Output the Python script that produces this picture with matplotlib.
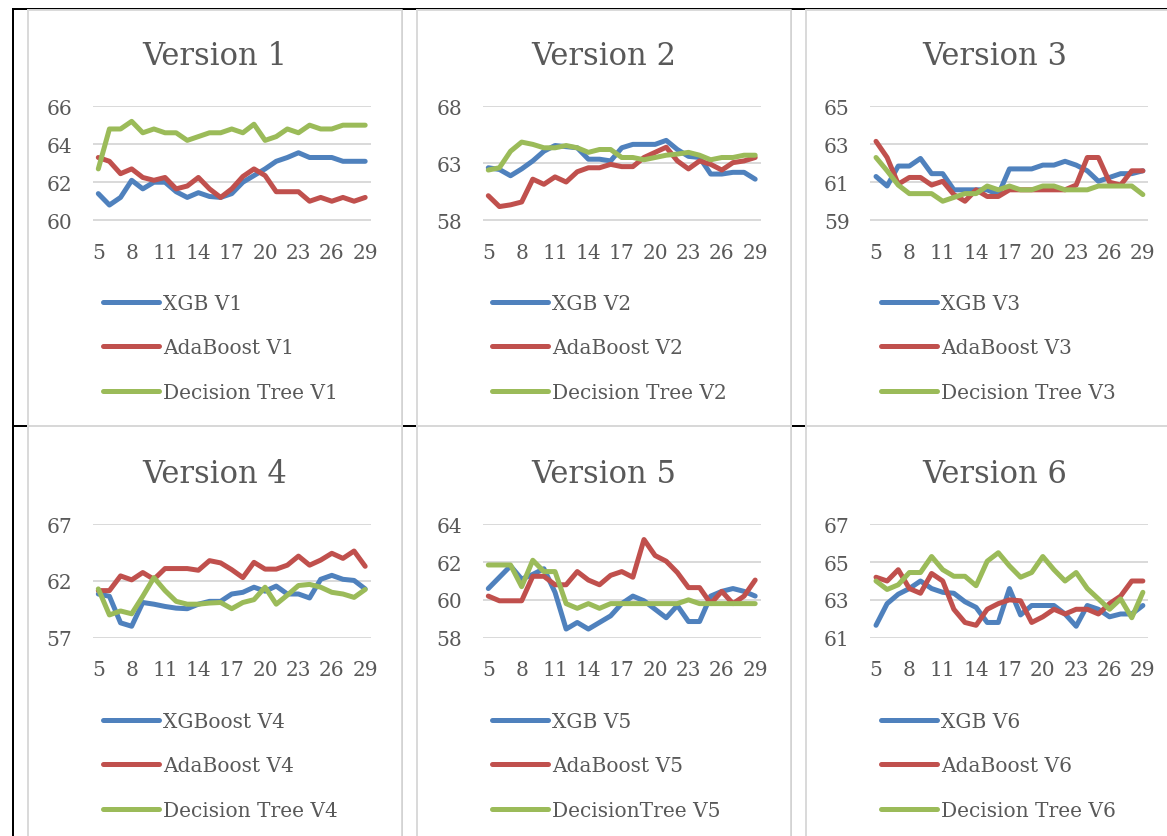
import matplotlib
matplotlib.use("Agg")
import matplotlib.pyplot as plt
from matplotlib.lines import Line2D

plt.rcParams["font.family"] = "DejaVu Serif"

# x axis: number of features (5..29)
x_vals = list(range(5, 30))
x_ticks = list(range(5, 30, 3))

# ---- Version 1
xgb_v1 = [61.4, 60.8, 61.2, 62.1, 61.65, 62.0, 62.0, 61.5, 61.2, 61.45, 61.25, 61.2, 61.4,
          62.0, 62.35, 62.7, 63.1, 63.3, 63.55, 63.3, 63.3, 63.3, 63.1, 63.1, 63.1]
ada_v1 = [63.3, 63.1, 62.45, 62.7, 62.25, 62.1, 62.25, 61.65, 61.8, 62.25, 61.65, 61.2, 61.65,
          62.3, 62.7, 62.35, 61.5, 61.5, 61.5, 61.0, 61.2, 61.0, 61.2, 61.0, 61.2]
dt_v1 = [62.7, 64.8, 64.8, 65.2, 64.6, 64.8, 64.6, 64.6, 64.2, 64.4, 64.6, 64.6, 64.8,
         64.6, 65.05, 64.2, 64.4, 64.8, 64.6, 65.0, 64.8, 64.8, 65.0, 65.0, 65.0]

# ---- Version 2
xgb_v2 = [62.6, 62.45, 61.9, 62.5, 63.2, 64.05, 64.55, 64.45, 64.35, 63.35, 63.35, 63.2, 64.35,
          64.65, 64.65, 64.65, 65.0, 64.2, 63.6, 63.5, 62.05, 62.05, 62.2, 62.2, 61.6]
ada_v2 = [60.15, 59.2, 59.35, 59.6, 61.6, 61.15, 61.8, 61.35, 62.25, 62.6, 62.6, 62.9, 62.7,
          62.7, 63.5, 63.95, 64.4, 63.2, 62.5, 63.2, 62.9, 62.4, 63.05, 63.2, 63.5]
dt_v2 = [62.4, 62.6, 64.05, 64.85, 64.65, 64.35, 64.35, 64.55, 64.35, 63.95, 64.2, 64.2, 63.5,
         63.5, 63.3, 63.5, 63.7, 63.8, 63.95, 63.7, 63.3, 63.5, 63.5, 63.7, 63.7]

# ---- Version 3
xgb_v3 = [61.3, 60.8, 61.85, 61.85, 62.25, 61.45, 61.45, 60.6, 60.6, 60.6, 60.6, 60.35, 61.7,
          61.7, 61.7, 61.9, 61.9, 62.1, 61.9, 61.6, 61.05, 61.25, 61.45, 61.45, 61.6]
ada_v3 = [63.15, 62.3, 60.9, 61.25, 61.25, 60.85, 61.05, 60.35, 60.0, 60.6, 60.25, 60.25, 60.6,
          60.6, 60.6, 60.6, 60.6, 60.6, 60.85, 62.3, 62.3, 61.0, 60.85, 61.6, 61.6]
dt_v3 = [62.3, 61.6, 60.85, 60.4, 60.4, 60.4, 60.0, 60.2, 60.4, 60.4, 60.8, 60.6, 60.8,
         60.6, 60.6, 60.8, 60.8, 60.6, 60.6, 60.6, 60.8, 60.8, 60.8, 60.8, 60.35]

# ---- Version 4
xgb_v4 = [60.85, 60.65, 58.3, 58.0, 60.1, 59.95, 59.75, 59.6, 59.55, 59.95, 60.2, 60.2, 60.85,
          61.0, 61.45, 61.1, 61.55, 60.85, 60.85, 60.5, 62.15, 62.5, 62.15, 62.05, 61.3]
ada_v4 = [61.15, 61.15, 62.45, 62.1, 62.75, 62.15, 63.1, 63.1, 63.1, 62.95, 63.8, 63.6, 63.0,
          62.3, 63.65, 63.05, 63.05, 63.4, 64.2, 63.4, 63.85, 64.45, 64.0, 64.65, 63.3]
dt_v4 = [61.3, 59.0, 59.35, 59.1, 60.65, 62.3, 61.15, 60.2, 59.95, 59.95, 60.05, 60.1, 59.55,
         60.1, 60.35, 61.45, 59.95, 60.75, 61.6, 61.7, 61.45, 61.0, 60.85, 60.55, 61.25]

# ---- Version 5
xgb_v5 = [60.6, 61.2, 61.8, 61.1, 61.35, 61.65, 60.4, 58.45, 58.8, 58.45, 58.8, 59.15, 59.8,
          60.2, 59.95, 59.5, 59.05, 59.7, 58.85, 58.85, 60.2, 60.45, 60.6, 60.45, 60.2]
ada_v5 = [60.2, 59.95, 59.95, 59.95, 61.25, 61.25, 60.8, 60.8, 61.5, 61.05, 60.8, 61.3, 61.5,
          61.2, 63.2, 62.35, 62.05, 61.45, 60.65, 60.65, 59.8, 60.45, 59.8, 60.2, 61.05]
dt_v5 = [61.85, 61.85, 61.85, 60.7, 62.1, 61.5, 61.5, 59.8, 59.55, 59.8, 59.55, 59.8, 59.8,
         59.8, 59.8, 59.8, 59.8, 59.8, 60.0, 59.8, 59.8, 59.8, 59.8, 59.8, 59.8]

# ---- Version 6
xgb_v6 = [61.65, 62.8, 63.3, 63.6, 64.0, 63.6, 63.4, 63.35, 62.9, 62.6, 61.8, 61.8, 63.6,
          62.2, 62.7, 62.7, 62.7, 62.25, 61.6, 62.7, 62.5, 62.1, 62.25, 62.25, 62.7]
ada_v6 = [64.2, 64.0, 64.6, 63.6, 63.35, 64.4, 64.0, 62.5, 61.8, 61.65, 62.5, 62.8, 63.0,
          62.95, 61.8, 62.1, 62.5, 62.25, 62.5, 62.5, 62.25, 62.8, 63.2, 64.0, 64.0]
dt_v6 = [64.0, 63.55, 63.8, 64.45, 64.45, 65.3, 64.6, 64.25, 64.25, 63.75, 65.05, 65.5, 64.8,
         64.2, 64.45, 65.3, 64.6, 64.0, 64.45, 63.6, 63.05, 62.5, 63.05, 62.05, 63.4]

titles = ["Version 1", "Version 2", "Version 3", "Version 4", "Version 5", "Version 6"]
series = [
    (xgb_v1, ada_v1, dt_v1),
    (xgb_v2, ada_v2, dt_v2),
    (xgb_v3, ada_v3, dt_v3),
    (xgb_v4, ada_v4, dt_v4),
    (xgb_v5, ada_v5, dt_v5),
    (xgb_v6, ada_v6, dt_v6),
]
labels = [
    ["XGB V1", "AdaBoost V1", "Decision Tree V1"],
    ["XGB V2", "AdaBoost V2", "Decision Tree V2"],
    ["XGB V3", "AdaBoost V3", "Decision Tree V3"],
    ["XGBoost V4", "AdaBoost V4", "Decision Tree V4"],
    ["XGB V5", "AdaBoost V5", "DecisionTree V5"],
    ["XGB V6", "AdaBoost V6", "Decision Tree V6"],
]
y_ranges = [(60, 66, 2), (58, 68, 5), (59, 65, 2), (57, 67, 5), (58, 64, 2), (61, 67, 2)]

COLORS = ["#4F81BD", "#C0504D", "#9BBB59"]
TXT = "#595959"
GRID = "#D9D9D9"

W, H = 1167, 837
fig = plt.figure(figsize=(W / 100, H / 100), dpi=100)


def fx(px):
    return px / W


def fy(py):
    return 1 - py / H


# table borders (black) and chart borders (light gray)
for x0, x1, y0, y1, lw in [(13, W, 10, 10, 2), (13, 13, 10, H, 2), (402, 402, 10, H, 1),
                           (791, 791, 10, H, 1), (13, W, 427, 427, 2)]:
    fig.add_artist(Line2D([fx(x0), fx(x1)], [fy(y0), fy(y1)], color="black", lw=lw * 0.72))

chart_left = [28, 417, 806]
chart_right = [402, 791, W + 5]
chart_top = [11, 427]
chart_bot = [427, H + 5]
title_x = [215, 604, 995]
for r in range(2):
    for c in range(3):
        xs = [chart_left[c], chart_right[c], chart_right[c], chart_left[c], chart_left[c]]
        ys = [chart_top[r], chart_top[r], chart_bot[r], chart_bot[r], chart_top[r]]
        fig.add_artist(Line2D([fx(v) for v in xs], [fy(v) for v in ys], color=GRID, lw=1.4))

# plot area placement (pixels)
x5_px = [98.3, 488.3, 876.0]
step_px = 11.12
row_top = [106.7, 525.0]
row_bot = [221.7, 639.0]

for i in range(6):
    r, c = divmod(i, 3)
    left = x5_px[c] - step_px / 2
    width = step_px * 25
    ax = fig.add_axes([fx(left), fy(row_bot[r]), fx(width), (row_bot[r] - row_top[r]) / H])
    ymin, ymax, ystep = y_ranges[i]
    for vals, col, lab in zip(series[i], COLORS, labels[i]):
        ax.plot(x_vals, vals, color=col, lw=3.6, label=lab, solid_joinstyle="round",
                solid_capstyle="round", clip_on=False)
    eps = (ymax - ymin) * 0.004
    ax.set_xlim(4.5, 29.5)
    ax.set_ylim(ymin - eps, ymax + eps)
    ax.set_yticks(list(range(ymin, ymax + 1, ystep)))
    ax.set_xticks(x_ticks)
    ax.yaxis.grid(True, color=GRID, lw=1.4)
    ax.set_axisbelow(True)
    for s in ax.spines.values():
        s.set_visible(False)
    ax.tick_params(length=0, labelsize=14.5, colors=TXT)
    ax.tick_params(axis="y", pad=15)
    ax.tick_params(axis="x", pad=16)

    fig.text(fx(title_x[c]), fy(65 + 418 * r), titles[i], ha="center", va="baseline",
             fontsize=22, color=TXT)

    ax.legend(loc="center left", bbox_to_anchor=(fx(chart_left[c] + 75), fy(349 + 418 * r)),
              bbox_transform=fig.transFigure, frameon=False, fontsize=14.5,
              handlelength=2.8, handletextpad=0.2, labelspacing=1.27, borderpad=0,
              borderaxespad=0, labelcolor=TXT)

fig.savefig("out.png", dpi=100)
